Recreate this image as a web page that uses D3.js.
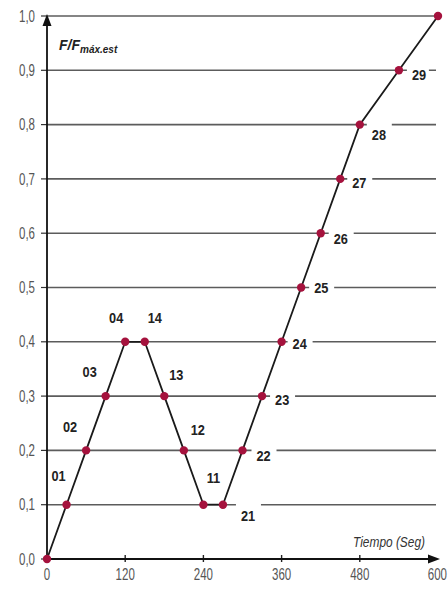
<!DOCTYPE html>
<html><head><meta charset="utf-8">
<script src="https://cdn.jsdelivr.net/npm/d3@7"></script>
<style>body{margin:0;background:#fff}svg{display:block}</style>
</head><body>
<script>
const times  = [0,30,60,90,120,150,180,210,240,270,300,330,360,390,420,450,480,540,600];
const values = [0,0.1,0.2,0.3,0.4,0.4,0.3,0.2,0.1,0.1,0.2,0.3,0.4,0.5,0.6,0.7,0.8,0.9,1.0];
const pointLabels = ["","01","02","03","04","14","13","12","11","21","22","23","24","25","26","27","28","29",""];
const xTicks = [0,120,240,360,480,600];
const yTicks = [0,0.1,0.2,0.3,0.4,0.5,0.6,0.7,0.8,0.9,1.0];
const yTickLabels = ["0,0","0,1","0,2","0,3","0,4","0,5","0,6","0,7","0,8","0,9","1,0"];

// label placement (relative to its point), layout only
const labelOffset = {
  "01":[-8,-29],"02":[-16,-24],"03":[-16,-24],"04":[-9,-24],
  "14":[10,-24],"13":[12,-21],"12":[14,-21],"11":[10,-27],
  "21":[18,11],"22":[14,5],"23":[13,4],"24":[11,2],"25":[13,0],
  "26":[13,6],"27":[12,4],"28":[12,10],"29":[13,4]
};

const W=448,H=593;
const lf="Liberation Sans, Arial, sans-serif";
const svg=d3.select("body").append("svg").attr("width",W).attr("height",H);
const x=d3.scaleLinear().domain([0,600]).range([47,438]);
const y=d3.scaleLinear().domain([0,1]).range([559,16]);
const data=times.map((t,i)=>({t,v:values[i],lab:pointLabels[i]}));

// gridlines
svg.append("g").selectAll("line").data(yTicks.filter(d=>d>0)).join("line")
  .attr("x1",x(0)).attr("x2",x(600)-2).attr("y1",d=>y(d)).attr("y2",d=>y(d))
  .attr("stroke","#5c5c5c").attr("stroke-width",1.6);

// y axis ticks + labels
const ya=svg.append("g");
ya.selectAll("line").data(yTicks).join("line")
  .attr("x1",x(0)-6).attr("x2",x(0)).attr("y1",d=>y(d)).attr("y2",d=>y(d))
  .attr("stroke","#333").attr("stroke-width",1.2);
ya.selectAll("text").data(yTicks).join("text")
  .attr("transform",d=>`translate(35,${y(d)}) scale(0.72,1)`)
  .attr("dy","0.35em").attr("text-anchor","end")
  .attr("font-family",lf).attr("font-size",16)
  .attr("fill","#555").text((d,i)=>yTickLabels[i]);

// x axis ticks + labels
const xa=svg.append("g");
xa.selectAll("line").data(xTicks.filter(d=>d>0&&d<600)).join("line")
  .attr("x1",d=>x(d)).attr("x2",d=>x(d)).attr("y1",y(0)-4).attr("y2",y(0)+3)
  .attr("stroke","#222").attr("stroke-width",1.4);
xa.selectAll("text").data(xTicks).join("text")
  .attr("transform",d=>d===600?`translate(447,580) scale(0.72,1)`:`translate(${x(d)},580) scale(0.72,1)`)
  .attr("text-anchor",d=>d===600?"end":"middle")
  .attr("font-family",lf).attr("font-size",16)
  .attr("fill","#555").text(d=>d);

// axes lines with arrows
svg.append("line").attr("x1",x(0)).attr("x2",x(0)).attr("y1",y(0)).attr("y2",y(1)+2)
  .attr("stroke","#111").attr("stroke-width",1.8);
svg.append("path").attr("d",`M${x(0)},${y(1)-2} L${x(0)-4.5},${y(1)+10} L${x(0)+4.5},${y(1)+10}Z`).attr("fill","#111");
svg.append("line").attr("x1",x(0)).attr("x2",x(600)-2).attr("y1",y(0)).attr("y2",y(0))
  .attr("stroke","#111").attr("stroke-width",1.8);
svg.append("path").attr("d",`M${x(600)+2},${y(0)} L${x(600)-10},${y(0)-4.5} L${x(600)-10},${y(0)+4.5}Z`).attr("fill","#111");

// white gaps behind inline labels
const inline=data.filter(d=>d.lab && d.lab[0]==="2");
svg.append("g").selectAll("rect").data(inline).join("rect")
  .attr("x",d=>x(d.t)+labelOffset[d.lab][0]-5)
  .attr("y",d=>y(d.v)-4)
  .attr("width",d=>d.lab==="29"?22:25).attr("height",8).attr("fill","#fff");

// line
svg.append("path").datum(data)
  .attr("d",d3.line().x(d=>x(d.t)).y(d=>y(d.v)))
  .attr("fill","none").attr("stroke","#1a1a1a").attr("stroke-width",1.8);

// markers
svg.append("g").selectAll("circle").data(data).join("circle")
  .attr("cx",d=>x(d.t)).attr("cy",d=>y(d.v)).attr("r",4.2).attr("fill","#a5123d");

// point labels
svg.append("g").selectAll("text").data(data.filter(d=>d.lab)).join("text")
  .attr("transform",d=>`translate(${x(d.t)+labelOffset[d.lab][0]},${y(d.v)+labelOffset[d.lab][1]}) scale(0.85,1)`)
  .attr("dy","0.35em")
  .attr("text-anchor",d=>d.lab[0]==="2"?"start":"middle")
  .attr("font-family",lf).attr("font-size",15).attr("font-weight","bold")
  .attr("fill","#222").text(d=>d.lab);

// axis titles
const yt=svg.append("text").attr("x",59).attr("y",50)
  .attr("font-family",lf).attr("font-style","italic").attr("font-weight","bold").attr("fill","#222");
yt.append("tspan").attr("font-size",14).text("F/F");
yt.append("tspan").attr("font-size",10).attr("dy",3).text("máx.est");

svg.append("text").attr("transform","translate(425,547) scale(0.85,1)").attr("text-anchor","end")
  .attr("font-family",lf).attr("font-style","italic").attr("font-size",14)
  .attr("fill","#333").text("Tiempo (Seg)");
</script>
</body></html>
